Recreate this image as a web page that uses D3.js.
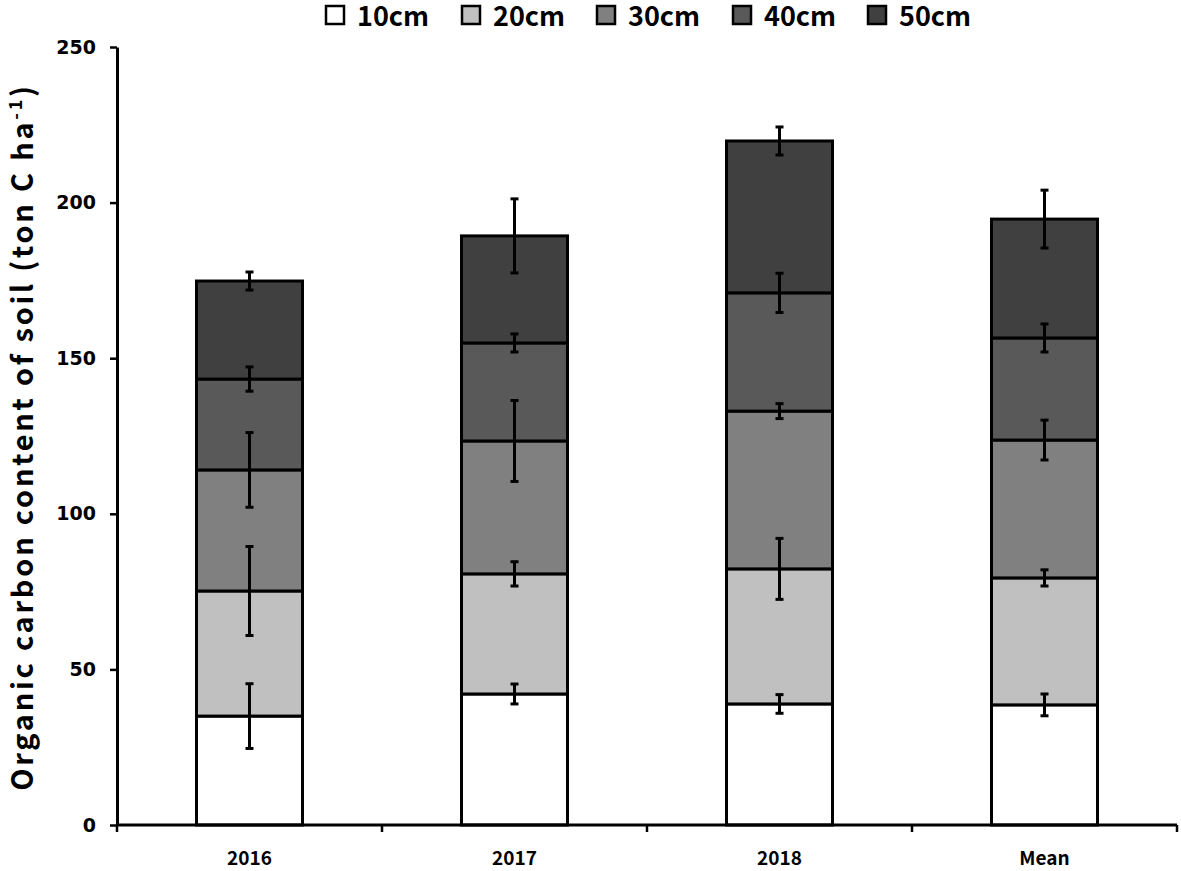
<!DOCTYPE html>
<html><head><meta charset="utf-8">
<script src="https://cdn.jsdelivr.net/npm/d3@7"></script>
<style>body{margin:0;background:#fff}svg{display:block}</style>
</head><body>
<svg id="chart" width="1181" height="871"></svg>
<script>
const categories = ["2016", "2017", "2018", "Mean"];
const depths = ["10cm", "20cm", "30cm", "40cm", "50cm"];
const colors = ["#ffffff", "#c0c0c0", "#808080", "#595959", "#404040"];
const v10 = [35.0, 42.1, 38.9, 38.6];
const v20 = [40.2, 38.6, 43.4, 40.8];
const v30 = [38.9, 42.7, 50.7, 44.3];
const v40 = [29.2, 31.5, 38.0, 32.8];
const v50 = [31.5, 34.4, 48.8, 38.2];
const e10 = [10.4, 3.2, 3.0, 3.5];
const e20 = [14.3, 3.9, 9.8, 2.6];
const e30 = [12.0, 13.0, 2.4, 6.4];
const e40 = [3.9, 2.9, 6.3, 4.5];
const e50 = [2.9, 11.9, 4.5, 9.3];
const yTicks = [0, 50, 100, 150, 200, 250];

const values = [v10, v20, v30, v40, v50];
const errors = [e10, e20, e30, e40, e50];

const svg = d3.select("#chart");
const x = d3.scaleBand().domain(categories).range([117, 1177]).paddingInner(0.6).paddingOuter(0.3);
const xb = d3.scaleBand().domain(categories).range([117, 1177]).padding(0);
const y = d3.scaleLinear().domain([0, 250]).range([825, 47]);

const rows = categories.map((c, i) => {
  const o = {cat: c};
  depths.forEach((d, k) => o[d] = values[k][i]);
  return o;
});
const stacked = d3.stack().keys(depths)(rows);

// bars
stacked.forEach((layer, k) => {
  svg.append("g").selectAll("rect").data(layer).join("rect")
    .attr("x", d => x(d.data.cat))
    .attr("width", x.bandwidth())
    .attr("y", d => y(d[1]))
    .attr("height", d => y(d[0]) - y(d[1]))
    .attr("fill", colors[k])
    .attr("stroke", "#000")
    .attr("stroke-width", 3);
});

// error bars
const eg = svg.append("g").attr("stroke", "#000").attr("stroke-width", 3);
stacked.forEach((layer, k) => {
  layer.forEach((d, i) => {
    const cx = x(d.data.cat) + x.bandwidth() / 2;
    const top = d[1], e = errors[k][i];
    eg.append("line").attr("x1", cx).attr("x2", cx).attr("y1", y(top + e)).attr("y2", y(top - e));
    eg.append("line").attr("x1", cx - 4).attr("x2", cx + 4).attr("y1", y(top + e)).attr("y2", y(top + e));
    eg.append("line").attr("x1", cx - 4).attr("x2", cx + 4).attr("y1", y(top - e)).attr("y2", y(top - e));
  });
});

// y axis
const ya = svg.append("g").attr("transform", "translate(117,0)")
  .call(d3.axisLeft(y).tickValues(yTicks).tickSize(7).tickPadding(14).tickSizeOuter(0));
ya.select(".domain").attr("stroke", "#000").attr("stroke-width", 3);
ya.selectAll(".tick line").attr("stroke", "#000").attr("stroke-width", 2.5);
ya.selectAll(".tick text").attr("font-family", "DejaVu Sans").attr("font-weight", "bold")
  .attr("font-size", 19).attr("fill", "#000");

// x axis
const xa = svg.append("g").attr("transform", "translate(0,825)");
xa.append("line").attr("x1", 117).attr("x2", 1177).attr("stroke", "#000").attr("stroke-width", 3);
const bounds = categories.map(c => xb(c)).concat([xb(categories[categories.length - 1]) + xb.bandwidth()]);
xa.selectAll("line.tk").data(bounds).join("line").attr("class", "tk")
  .attr("x1", d => d).attr("x2", d => d).attr("y1", 0).attr("y2", 7)
  .attr("stroke", "#000").attr("stroke-width", 2.5);
xa.selectAll("text").data(categories).join("text")
  .attr("x", d => x(d) + x.bandwidth() / 2).attr("y", 40)
  .attr("text-anchor", "middle")
  .attr("font-family", "Noto Sans CJK KR").attr("font-weight", "bold").attr("font-size", 19)
  .attr("fill", "#000").text(d => d);

// y title
const t = svg.append("text").attr("transform", "translate(33,437) rotate(-90)")
  .attr("text-anchor", "middle").attr("font-family", "Noto Sans CJK KR")
  .attr("font-weight", "bold").attr("font-size", 29).attr("fill", "#000");
const t1 = t.append("tspan").text("Organic carbon content of soil (ton C ha");
t.append("tspan").attr("dy", -11).attr("font-size", 18).text("-1");
const t3 = t.append("tspan").attr("dy", 11).text(")");
const curLen = t.node().getComputedTextLength();
const targetLen = 705;
const nChars = 42;
if (curLen > 0 && curLen < targetLen) {
  t.attr("letter-spacing", ((targetLen - curLen) / nChars).toFixed(2));
}

// legend
const lg = svg.append("g");
const legX = [326, 462, 597, 733, 868];
depths.forEach((d, k) => {
  lg.append("rect").attr("x", legX[k]).attr("y", 6).attr("width", 18).attr("height", 18)
    .attr("fill", colors[k]).attr("stroke", "#000").attr("stroke-width", 2.5);
  lg.append("text").attr("x", legX[k] + 31).attr("y", 26)
    .attr("font-family", "Noto Sans CJK KR").attr("font-weight", "bold").attr("font-size", 27)
    .attr("fill", "#000").text(d);
});
</script>
</body></html>
